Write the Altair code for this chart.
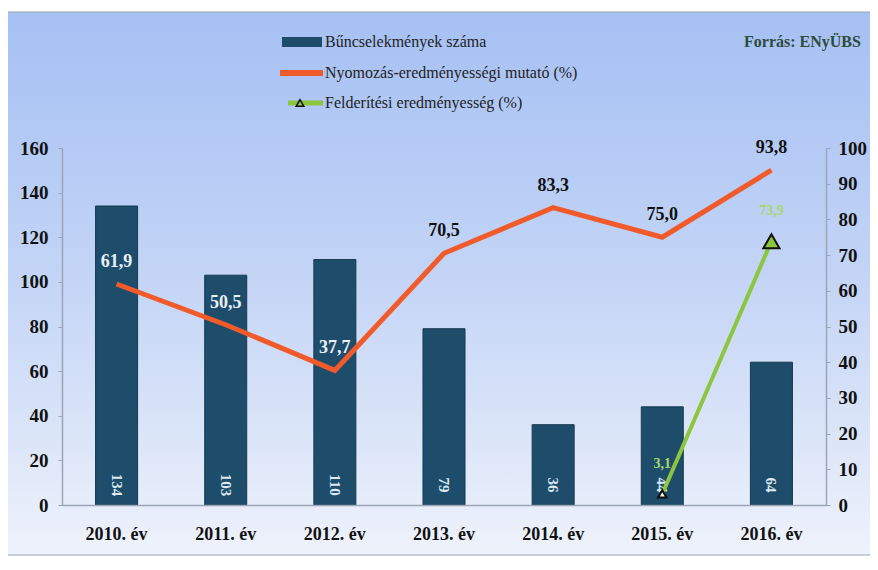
import altair as alt
import pandas as pd

years = ["2010. év", "2011. év", "2012. év", "2013. év", "2014. év", "2015. év", "2016. év"]
crimes = [134, 103, 110, 79, 36, 44, 64]
investigation = [61.9, 50.5, 37.7, 70.5, 83.3, 75.0, 93.8]
detect_years = ["2015. év", "2016. év"]
detection = [3.1, 73.9]

legend_labels = ["Bűncselekmények száma", "Nyomozás-eredményességi mutató (%)", "Felderítési eredményesség (%)"]
source_text = "Forrás: ENyÜBS"

SERIF = "Liberation Serif"
BAR_COLOR = "#1d4d6b"
ORANGE = "#f15a2b"
GREEN = "#8cc63f"

df = pd.DataFrame({"year": years, "crimes": crimes, "pct": investigation})
gdf = pd.DataFrame({"year": detect_years, "det": detection})

W, H = 764, 357

xenc = alt.X("year:N", sort=years, title=None,
             scale=alt.Scale(paddingInner=0.615, paddingOuter=0.3075),
             axis=alt.Axis(labelAngle=0, labelFont=SERIF, labelFontWeight="bold",
                           labelFontSize=18, labelColor="#111", labelPadding=20,
                           ticks=False, domainColor="#9aa6b8", domainWidth=1.5, zindex=1))

one = pd.DataFrame({"a": [0]})

bg = alt.Chart(one).mark_rect(
    color=alt.LinearGradient(gradient="linear", x1=0, x2=0, y1=0, y2=1,
                             stops=[alt.GradientStop(offset=0, color="#a5c0f3"),
                                    alt.GradientStop(offset=0.5, color="#c4d5f6"),
                                    alt.GradientStop(offset=1, color="#eef2fb")]),
    stroke="#9ba5b3", strokeWidth=1
).encode(x=alt.value(-57), x2=alt.value(810), y=alt.value(-136), y2=alt.value(407))

yleft = alt.Y("crimes:Q", title=None,
              scale=alt.Scale(domain=[0, 160]),
              axis=alt.Axis(values=list(range(0, 161, 20)), grid=False, labelFont=SERIF,
                            labelFontWeight="bold", labelFontSize=19, labelColor="#111",
                            domainColor="#9aa6b8", domainWidth=1.5, tickColor="#9aa6b8",
                            tickSize=4, labelPadding=10, orient="left", zindex=1))

bars = alt.Chart(df).mark_bar(color=BAR_COLOR, stroke="#173a50", strokeWidth=1).encode(
    x=xenc, y=yleft)

bar_labels = alt.Chart(df).mark_text(angle=90, font=SERIF, fontWeight="bold", fontSize=15,
                                     color="#dce8f2", align="center", baseline="middle").encode(
    x=alt.X("year:N", sort=years),
    y=alt.Y(datum=9, scale=alt.Scale(domain=[0, 160])),
    text="crimes:Q")

left = alt.layer(bars, bar_labels)

rscale = alt.Scale(domain=[0, 100])
raxis = alt.Axis(values=list(range(0, 101, 10)), grid=False, labelFont=SERIF,
                 labelFontWeight="bold", labelFontSize=19, labelColor="#111",
                 domainColor="#9aa6b8", domainWidth=1.5, tickColor="#9aa6b8",
                 tickSize=4, labelPadding=8, orient="right", zindex=1)


def yr(field):
    return alt.Y(field, title=None, scale=rscale, axis=raxis)


oline = alt.Chart(df).mark_line(color=ORANGE, strokeWidth=5).encode(
    x=alt.X("year:N", sort=years), y=yr("pct:Q"))

olabels = alt.Chart(df).transform_calculate(
    lbl="replace(format(datum.pct, '.1f'), '.', ',')"
).mark_text(font=SERIF, fontWeight="bold", fontSize=18, dy=-22, baseline="middle").encode(
    x=alt.X("year:N", sort=years),
    y=yr("pct:Q"),
    text="lbl:N",
    color=alt.condition("datum.pct < 65", alt.value("#e8f0f8"), alt.value("#111111")))

gline = alt.Chart(gdf).mark_line(color=GREEN, strokeWidth=4).encode(
    x=alt.X("year:N", sort=years), y=yr("det:Q"))

gpoints = alt.Chart(gdf).mark_point(shape="triangle-up", filled=True,
                                    stroke="#111", strokeWidth=2, opacity=1).encode(
    x=alt.X("year:N", sort=years), y=yr("det:Q"),
    size=alt.condition("datum.det > 50", alt.value(260), alt.value(70)),
    fill=alt.condition("datum.det > 50", alt.value(GREEN), alt.value("#fdfbe6")))

glabels = alt.Chart(gdf).transform_calculate(
    lbl="replace(format(datum.det, '.1f'), '.', ',')"
).mark_text(font=SERIF, fontWeight="bold", fontSize=14, dy=-30, color="#a6d86a").encode(
    x=alt.X("year:N", sort=years), y=yr("det:Q"), text="lbl:N")

right = alt.layer(oline, olabels, gline, gpoints, glabels)

# legend (manual)
def legend_text(txt, y):
    return alt.Chart(one).mark_text(font=SERIF, fontSize=16, color="#222", align="left",
                                    baseline="middle").encode(
        x=alt.value(263), y=alt.value(y), text=alt.value(txt))

leg_bar = alt.Chart(one).mark_rect(color=BAR_COLOR).encode(
    x=alt.value(220), x2=alt.value(260), y=alt.value(-111), y2=alt.value(-101))
leg_orange = alt.Chart(one).mark_rule(color=ORANGE, strokeWidth=6).encode(
    x=alt.value(218), x2=alt.value(261), y=alt.value(-75))
leg_green = alt.Chart(one).mark_rule(color=GREEN, strokeWidth=5).encode(
    x=alt.value(226), x2=alt.value(261), y=alt.value(-45))
leg_tri = alt.Chart(one).mark_point(shape="triangle-up", filled=True, fill=GREEN,
                                    stroke="#111", strokeWidth=1.5, size=60, opacity=1).encode(
    x=alt.value(238), y=alt.value(-45))
src = alt.Chart(one).mark_text(font=SERIF, fontSize=16, fontWeight="bold", color="#2c4b3c",
                               align="left", baseline="middle").encode(
    x=alt.value(682), y=alt.value(-106), text=alt.value(source_text))

legend = alt.layer(leg_bar, leg_orange, leg_green, leg_tri,
                   legend_text(legend_labels[0], -106),
                   legend_text(legend_labels[1], -75),
                   legend_text(legend_labels[2], -45), src)

chart = alt.layer(bg, left, right, legend).resolve_scale(y="independent").properties(
    width=W, height=H,
    autosize=alt.AutoSizeParams(type="none"),
    padding={"left": 54, "top": 140, "right": 44, "bottom": 57},
).configure_view(strokeWidth=0).configure(background="white")

chart.save("out.html", embed_options={"renderer": "svg", "actions": False})
